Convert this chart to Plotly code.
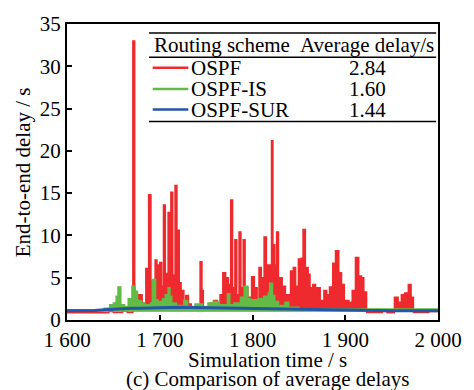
import plotly.graph_objects as go

# ---- data ----
red_t = [1600, 1645, 1650, 1660, 1665, 1671, 1673, 1677, 1681, 1685, 1688, 1690.5, 1695, 1697,
         1699, 1700, 1702, 1704, 1706, 1709, 1711, 1712, 1714, 1716.5, 1718.5, 1721, 1723, 1726,
         1728, 1731, 1734, 1743.5, 1745.5, 1747, 1755, 1758, 1762, 1765, 1768, 1771, 1774,
         1776.5, 1778.5, 1781, 1783, 1785.5, 1787.5, 1790, 1792, 1795, 1799, 1802, 1805, 1807,
         1809.5, 1812.5, 1815, 1820.5, 1822, 1824, 1826, 1828, 1832, 1835.5, 1841, 1844, 1846.5,
         1849.5, 1852.5, 1854.5, 1857, 1860, 1862, 1865, 1868, 1873, 1877, 1880, 1883, 1886.5,
         1889.5, 1893, 1896, 1899, 1904, 1907.5, 1911, 1914.5, 1917.5, 1920, 1923, 1940, 1945,
         1953, 1957, 1960.5, 1964, 1968, 1971, 1973.5, 1990, 2000]
red_v = [0.85, 1.0, 0.9, 1.1, 0.9, 33.0, 1.6, 3.0, 2.0, 6.1, 14.8, 4.6, 7.1, 6.5,
         4.5, 6.8, 4.0, 13.6, 5.5, 12.7, 6.0, 15.1, 5.3, 15.9, 10.6, 4.4, 3.5, 2.0,
         2.9, 1.9, 1.5, 6.9, 3.5, 1.5, 2.0, 2.3, 1.8, 3.0, 5.6, 5.0, 4.2,
         14.2, 3.8, 9.5, 3.0, 10.4, 3.8, 9.5, 3.8, 2.7, 5.1, 3.8, 2.5, 6.2,
         5.0, 9.8, 6.5, 21.2, 8.9, 6.5, 10.4, 5.0, 4.0, 3.0, 5.8, 6.2, 4.0,
         7.2, 7.3, 10.7, 6.2, 5.4, 3.8, 4.2, 3.8, 2.3, 3.5, 3.0, 3.9, 6.7,
         8.2, 5.6, 4.2, 2.3, 2.1, 3.5, 7.4, 5.2, 5.0, 3.3, 0.9, 1.0, 0.85,
         2.7, 2.1, 3.0, 3.2, 4.2, 2.7, 0.9, 1.0, 1.0]

green_t = [1600, 1640, 1646, 1650, 1653, 1655, 1658, 1662, 1666, 1670, 1673.5, 1676, 1680, 1684,
           1690, 1692, 1695.5, 1698, 1703, 1706, 1709, 1711, 1713, 1718, 1726, 1730, 1738, 1746,
           1752, 1758, 1764, 1773, 1775.5, 1780, 1787, 1791, 1795, 1798, 1806, 1812, 1817, 1818.5,
           1821.5, 1824, 1828, 1835, 1839, 1850, 2000]
green_v = [1.2, 1.4, 1.8, 2.0, 2.8, 3.9, 1.8, 1.6, 2.5, 4.0, 3.4, 2.3, 2.0, 1.8,
           2.0, 4.8, 2.4, 2.2, 2.5, 3.0, 3.8, 2.8, 2.0, 1.7, 2.3, 1.6, 1.9, 1.6,
           2.0, 2.2, 1.8, 3.1, 1.8, 2.0, 2.7, 4.0, 2.5, 2.4, 2.5, 2.8, 3.2, 4.35,
           2.9, 2.2, 1.7, 2.1, 1.5, 1.3, 1.2]

blue_t = list(range(1600, 2001, 10))
blue_v = [1.08, 1.10, 1.05, 1.12, 1.20, 1.28, 1.35, 1.38, 1.40, 1.45, 1.47, 1.48, 1.50, 1.48,
          1.46, 1.45, 1.43, 1.42, 1.42, 1.40, 1.38, 1.36, 1.35, 1.32, 1.30, 1.28, 1.24, 1.20,
          1.18, 1.15, 1.12, 1.10, 1.10, 1.08, 1.10, 1.08, 1.10, 1.08, 1.10, 1.08, 1.10]

schemes = ["OSPF", "OSPF-IS", "OSPF-SUR"]
avg_delay = ["2.84", "1.60", "1.44"]
colors = ["#EE2A2E", "#62BB46", "#2456A6"]
base_level = 1.0

x_ticks = [1600, 1700, 1800, 1900, 2000]
x_ticktext = ["1 600", "1 700", "1 800", "1 900", "2 000"]
y_ticks = [0, 5, 10, 15, 20, 25, 30, 35]

FONT = "Liberation Serif, Times New Roman, DejaVu Serif, serif"
FS = 21

fig = go.Figure()
# red (filled down to its baseline)
fig.add_trace(go.Scatter(x=[x_ticks[0], x_ticks[-1]], y=[base_level, base_level], mode="lines",
                         line=dict(width=0), showlegend=False, hoverinfo="skip"))
fig.add_trace(go.Scatter(x=red_t, y=red_v, mode="lines", line=dict(color=colors[0], width=1.5, shape="hv"),
                         fill="tonexty", fillcolor=colors[0], name=schemes[0], showlegend=False))
# green
fig.add_trace(go.Scatter(x=[x_ticks[0], x_ticks[-1]], y=[base_level, base_level], mode="lines",
                         line=dict(width=0), showlegend=False, hoverinfo="skip"))
fig.add_trace(go.Scatter(x=green_t, y=green_v, mode="lines", line=dict(color=colors[1], width=1.5, shape="hv"),
                         fill="tonexty", fillcolor=colors[1], name=schemes[1], showlegend=False))
# blue
fig.add_trace(go.Scatter(x=blue_t, y=blue_v, mode="lines", line=dict(color=colors[2], width=3),
                         name=schemes[2], showlegend=False))

# ---- legend table ----
shapes = []
annotations = []
x0, x1 = 0.221, 0.995
for yy, w in [(0.970, 1.5), (0.888, 1.5), (0.671, 1.5)]:
    shapes.append(dict(type="line", xref="paper", yref="paper", x0=x0, x1=x1, y0=yy, y1=yy,
                       line=dict(color="black", width=w)))
annotations.append(dict(text="Routing scheme", xref="paper", yref="paper", x=0.229, y=0.929,
                        xanchor="left", yanchor="middle", showarrow=False))
annotations.append(dict(text="Average delay/s", xref="paper", yref="paper", x=0.994, y=0.929,
                        xanchor="right", yanchor="middle", showarrow=False))
row_y = [0.852, 0.780, 0.711]
for name, val, col, ry in zip(schemes, avg_delay, colors, row_y):
    shapes.append(dict(type="line", xref="paper", yref="paper", x0=0.231, x1=0.327, y0=ry, y1=ry,
                       line=dict(color=col, width=2.5)))
    annotations.append(dict(text=name, xref="paper", yref="paper", x=0.328, y=ry,
                            xanchor="left", yanchor="middle", showarrow=False))
    annotations.append(dict(text=val, xref="paper", yref="paper", x=0.811, y=ry,
                            xanchor="center", yanchor="middle", showarrow=False))

# axis titles and caption
annotations.append(dict(text="End-to-end delay / s", xref="paper", yref="paper", x=-0.118, y=0.5,
                        xanchor="center", yanchor="middle", textangle=-90, showarrow=False))
annotations.append(dict(text="Simulation time / s", xref="paper", yref="paper", x=0.54, y=-0.135,
                        xanchor="center", yanchor="middle", showarrow=False))
annotations.append(dict(text="(c) Comparison of average delays", xref="paper", yref="paper", x=0.54,
                        y=-0.199, xanchor="center", yanchor="middle", showarrow=False))

fig.update_layout(
    width=474, height=390,
    margin=dict(l=67, r=31, t=16, b=70),
    paper_bgcolor="white", plot_bgcolor="white",
    font=dict(family=FONT, size=FS, color="black"),
    shapes=shapes, annotations=annotations,
    showlegend=False,
)
fig.update_xaxes(range=[1600, 2000], tickvals=x_ticks, ticktext=x_ticktext, ticks="inside", ticklen=5,
                 tickwidth=1.5, tickcolor="black", showline=True, linecolor="black", linewidth=2,
                 mirror=True, showgrid=False, zeroline=False)
fig.update_yaxes(range=[0, 35], tickvals=y_ticks, ticks="inside", ticklen=5, tickwidth=1.5,
                 tickcolor="black", showline=True, linecolor="black", linewidth=2, mirror=True,
                 showgrid=False, zeroline=False)

fig.write_html("out.html")
